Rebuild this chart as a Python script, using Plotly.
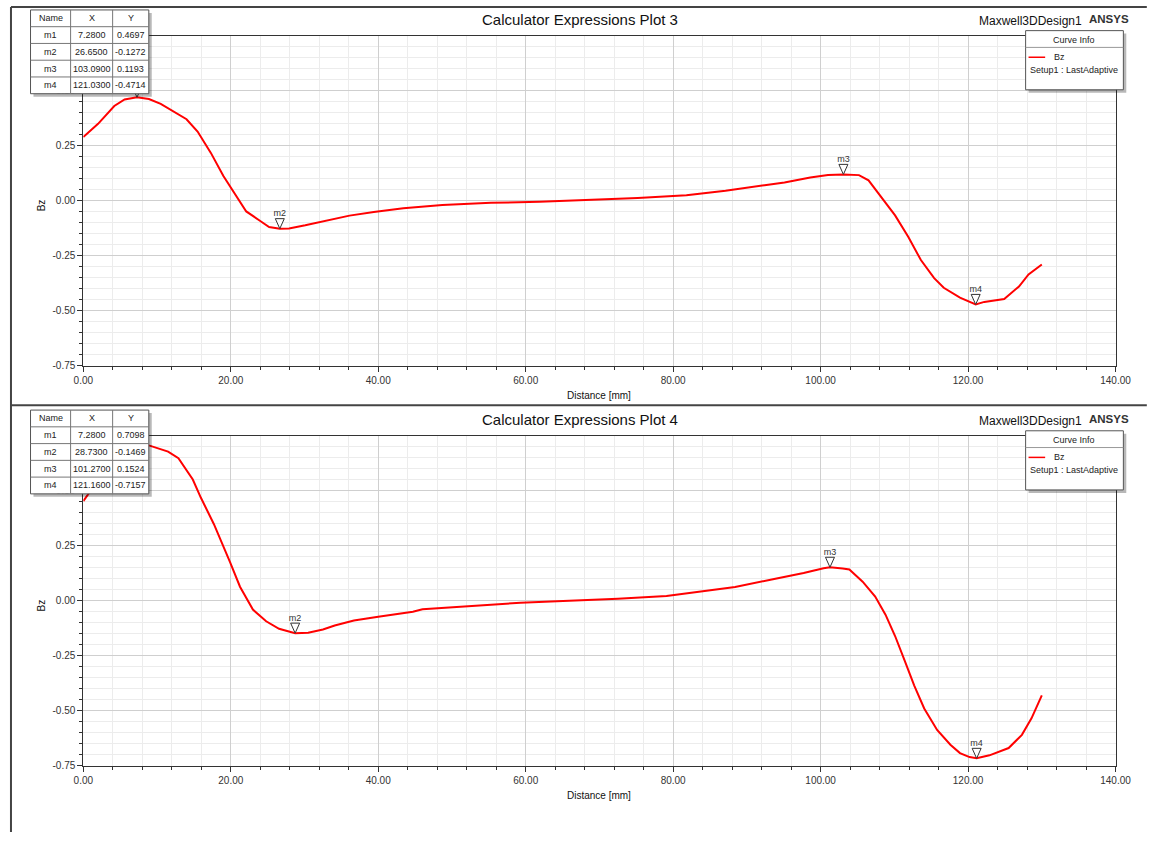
import plotly.graph_objects as go

# page size and the default body margin of the html page
PAGE_W, PAGE_H = 1171, 848
BODY = 8
W, H = PAGE_W - 2 * BODY, PAGE_H - 2 * BODY

# ---- data -------------------------------------------------------------
distance_3 = [0.0, 2.0, 4.2, 5.6, 7.28, 8.9, 10.5, 12.0, 14.0, 15.5, 17.3, 19.0,
              20.4, 22.1, 23.9, 25.2, 26.65, 27.9, 30.1, 33.0, 36.1, 39.4, 43.4,
              48.7, 55.3, 61.9, 68.5, 75.2, 81.8, 87.1, 92.4, 95.1, 98.6, 101.0,
              103.09, 105.2, 106.5, 108.3, 110.1, 111.9, 113.6, 115.4, 116.7,
              118.9, 121.03, 122.2, 124.9, 126.9, 128.2, 130.0]
bz_3 = [0.289, 0.349, 0.43, 0.46, 0.4697, 0.462, 0.44, 0.41, 0.37, 0.314, 0.217,
        0.112, 0.037, -0.049, -0.09, -0.12, -0.1272, -0.126, -0.112, -0.092,
        -0.068, -0.052, -0.035, -0.02, -0.01, -0.005, 0.004, 0.012, 0.025, 0.045,
        0.07, 0.082, 0.105, 0.116, 0.1193, 0.116, 0.092, 0.015, -0.067, -0.165,
        -0.27, -0.352, -0.396, -0.441, -0.4714, -0.46, -0.447, -0.39, -0.335, -0.29]

distance_4 = [0.0, 1.0, 2.5, 4.0, 5.5, 7.28, 9.0, 10.5, 11.5, 12.9, 14.85, 15.95,
              17.7, 19.9, 21.25, 23.0, 24.8, 26.55, 28.73, 30.5, 32.5, 34.1, 36.7,
              40.0, 44.7, 46.0, 52.6, 59.3, 65.9, 72.5, 79.1, 83.0, 88.4, 93.7,
              97.7, 100.4, 101.27, 103.0, 103.9, 105.7, 107.4, 108.8, 110.1, 111.4,
              112.7, 114.05, 115.8, 117.6, 118.9, 120.2, 121.16, 122.9, 125.5,
              127.3, 128.6, 130.0]
bz_4 = [0.453, 0.50, 0.58, 0.64, 0.685, 0.7098, 0.705, 0.69, 0.678, 0.648, 0.551,
        0.468, 0.349, 0.176, 0.064, -0.04, -0.093, -0.127, -0.1469, -0.145, -0.13,
        -0.112, -0.09, -0.072, -0.05, -0.038, -0.022, -0.009, 0.0, 0.009, 0.022,
        0.04, 0.063, 0.099, 0.126, 0.148, 0.1524, 0.147, 0.142, 0.087, 0.019,
        -0.063, -0.16, -0.272, -0.385, -0.489, -0.587, -0.654, -0.692, -0.71,
        -0.7157, -0.702, -0.669, -0.609, -0.534, -0.43]

marker_names = ["m1", "m2", "m3", "m4"]
marker_x_3 = [7.28, 26.65, 103.09, 121.03]
marker_y_3 = [0.4697, -0.1272, 0.1193, -0.4714]
marker_x_4 = [7.28, 28.73, 101.27, 121.16]
marker_y_4 = [0.7098, -0.1469, 0.1524, -0.7157]

x_ticks = [0, 20, 40, 60, 80, 100, 120, 140]
y_ticks = [-0.75, -0.5, -0.25, 0.0, 0.25, 0.5, 0.75]
x_tick_text = [f"{v:.2f}" for v in x_ticks]
y_tick_text = [f"{v:.2f}" for v in y_ticks]

plot_titles = ["Calculator Expressions Plot 3", "Calculator Expressions Plot 4"]
design_name = "Maxwell3DDesign1"
brand = "ANSYS"
x_title = "Distance [mm]"
y_title = "Bz"
trace_name = "Bz"
setup_name = "Setup1 : LastAdaptive"

# ---- layout helpers (page pixel -> paper) ------------------------------
def px(x):
    return (x - BODY) / W


def py(y):
    return 1 - (y - BODY) / H


TXT = "#222"
FONT = "Liberation Sans"
PLOT_L, PLOT_R = 83, 1139
PLOT_T, PLOT_B = 38, 373
Y_RANGE = [-0.75, 0.75]
# data units per screen pixel on the value axis
Y_PER_PX = (Y_RANGE[1] - Y_RANGE[0]) / (PLOT_B - PLOT_T)

panels = [
    dict(off=0, xs=distance_3, ys=bz_3, mx=marker_x_3, my=marker_y_3,
         title=plot_titles[0], xa="x", ya="y"),
    dict(off=406, xs=distance_4, ys=bz_4, mx=marker_x_4, my=marker_y_4,
         title=plot_titles[1], xa="x2", ya="y2"),
]

fig = go.Figure()
shapes = []
annotations = []


def text(x, y, s, size=9, xanchor="center", yanchor="middle", bold=False,
         textangle=0, color=TXT):
    annotations.append(dict(
        xref="paper", yref="paper", x=px(x), y=py(y), text=(f"<b>{s}</b>" if bold else s),
        showarrow=False, xanchor=xanchor, yanchor=yanchor, textangle=textangle,
        font=dict(family=FONT, size=size, color=color)))


def rect(x0, y0, x1, y1, fill="white", line="#555", width=1):
    shapes.append(dict(type="rect", xref="paper", yref="paper", layer="above",
                       x0=px(x0), x1=px(x1), y0=py(y1), y1=py(y0),
                       fillcolor=fill, line=dict(color=line, width=width)))


def hline(x0, x1, y, color="#555", width=1):
    shapes.append(dict(type="line", xref="paper", yref="paper", layer="above",
                       x0=px(x0), x1=px(x1), y0=py(y), y1=py(y),
                       line=dict(color=color, width=width)))


def vline(x, y0, y1, color="#555", width=1):
    shapes.append(dict(type="line", xref="paper", yref="paper", layer="above",
                       x0=px(x), x1=px(x), y0=py(y0), y1=py(y1),
                       line=dict(color=color, width=width)))


axis_font = dict(family=FONT, size=10, color="#333")

for i, p in enumerate(panels):
    off = p["off"]
    # curve
    fig.add_trace(go.Scatter(
        x=p["xs"], y=p["ys"], mode="lines", xaxis=p["xa"], yaxis=p["ya"],
        line=dict(color="#ff0000", width=2), showlegend=False, hoverinfo="x+y"))

    # marker labels sit in the plot layer so the marker table can cover them
    fig.add_trace(go.Scatter(
        x=p["mx"], y=[v + 15 * Y_PER_PX for v in p["my"]], mode="text",
        text=marker_names, textposition="middle center",
        textfont=dict(family=FONT, size=9, color="#333"),
        xaxis=p["xa"], yaxis=p["ya"], showlegend=False, hoverinfo="skip"))

    # marker triangles (tip on the curve)
    for mx, my in zip(p["mx"], p["my"]):
        shapes.append(dict(type="path", xref=p["xa"], yref=p["ya"],
                           xsizemode="pixel", ysizemode="pixel",
                           xanchor=mx, yanchor=my,
                           path="M -4.5,10 L 4.5,10 L 0,0 Z",
                           fillcolor="white", line=dict(color="#333", width=1)))

    xdom = [px(PLOT_L), px(PLOT_R)]
    ydom = [py(PLOT_B + off), py(PLOT_T + off)]
    xkey = "xaxis" if i == 0 else "xaxis2"
    ykey = "yaxis" if i == 0 else "yaxis2"
    fig.layout[xkey] = dict(
        domain=xdom, range=[0, 140], anchor=p["ya"],
        tickvals=x_ticks, ticktext=x_tick_text, tickfont=axis_font,
        showline=True, linecolor="#333", linewidth=1, mirror=True,
        ticks="outside", ticklen=5, tickcolor="#333",
        showgrid=True, gridcolor="#cfcfcf", gridwidth=1, zeroline=False,
        minor=dict(dtick=4, tick0=0, showgrid=True, gridcolor="#ececec",
                   ticks="outside", ticklen=3, tickcolor="#333"),
        fixedrange=True)
    fig.layout[ykey] = dict(
        domain=ydom, range=Y_RANGE, anchor=p["xa"],
        tickvals=y_ticks, ticktext=y_tick_text, tickfont=axis_font,
        showline=True, linecolor="#333", linewidth=1, mirror=True,
        ticks="outside", ticklen=5, tickcolor="#333",
        showgrid=True, gridcolor="#cfcfcf", gridwidth=1, zeroline=False,
        minor=dict(dtick=0.05, tick0=0, showgrid=True, gridcolor="#ececec",
                   ticks="outside", ticklen=3, tickcolor="#333"),
        fixedrange=True)

    # titles and axis labels
    text(591, 22 + off, p["title"], size=15, color="#111")
    text(1107, 23 + off, design_name, size=12, xanchor="right", color="#111")
    text(1155, 21 + off, brand, size=11.5, xanchor="right", bold=True, color="#333")
    text(611, 403 + off, x_title, size=10, color="#111")
    text(40, 210 + off, y_title, size=10, textangle=-90, color="#111")

    # marker table
    cols = [29, 70, 113, 150]
    rows = [12 + off + 17 * k for k in range(6)]
    rect(cols[0] + 3, rows[0] + 3, cols[-1] + 3, rows[-1] + 3,
         fill="rgba(0,0,0,0.28)", line="rgba(0,0,0,0)", width=0)
    rect(cols[0], rows[0], cols[-1], rows[-1], fill="white", line="#555")
    for c in cols[1:-1]:
        vline(c, rows[0], rows[-1], color="#777")
    for r in rows[1:-1]:
        hline(cols[0], cols[-1], r, color="#777")
    header = ["Name", "X", "Y"]
    for k, h in enumerate(header):
        text((cols[k] + cols[k + 1]) / 2, (rows[0] + rows[1]) / 2, h)
    for j, name in enumerate(marker_names):
        yc = (rows[j + 1] + rows[j + 2]) / 2
        text((cols[0] + cols[1]) / 2, yc, name)
        text((cols[1] + cols[2]) / 2, yc, f"{p['mx'][j]:.4f}")
        text((cols[2] + cols[3]) / 2, yc, f"{p['my'][j]:.4f}")

    # curve info box
    lx0, lx1, ly0, ly1 = 1047, 1147, 33 + off, 93 + off
    rect(lx0 + 3, ly0 + 3, lx1 + 3, ly1 + 3,
         fill="rgba(0,0,0,0.28)", line="rgba(0,0,0,0)", width=0)
    rect(lx0, ly0, lx1, ly1, fill="white", line="#555")
    hline(lx0, lx1, 50 + off, color="#999")
    text(1097, 42 + off, "Curve Info")
    hline(1050, 1067, 60 + off, color="#ff0000", width=1.5)
    text(1082, 60 + off, trace_name)
    text(1097, 73 + off, setup_name)

# panel frame lines
vline(9, 9, PAGE_H, color="#444", width=2)
hline(9, PAGE_W, 9, color="#444", width=2)
hline(9, PAGE_W, 413, color="#444", width=2)

fig.update_layout(
    width=W, height=H, autosize=False,
    margin=dict(l=0, r=0, t=0, b=0),
    paper_bgcolor="white", plot_bgcolor="white",
    shapes=shapes, annotations=annotations,
    showlegend=False,
    font=dict(family=FONT, color=TXT),
)

fig.write_html("out.html", config={"displayModeBar": False})
